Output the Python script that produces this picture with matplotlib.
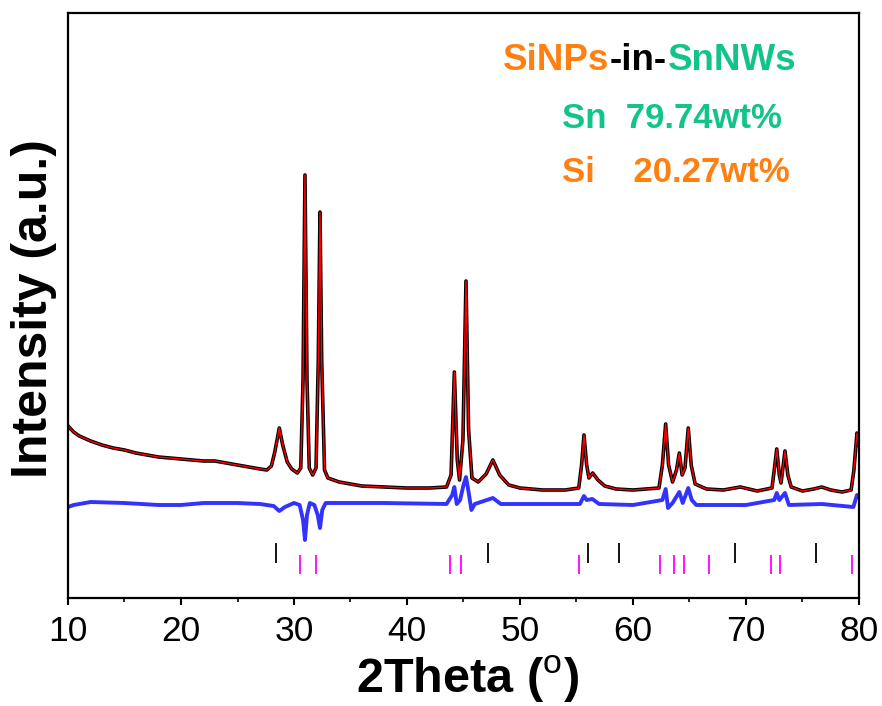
import matplotlib
matplotlib.use("Agg")
import matplotlib.pyplot as plt

plt.rcParams['font.family'] = ['Liberation Sans', 'DejaVu Sans']
plt.rcParams['mathtext.fontset'] = 'custom'
plt.rcParams['mathtext.rm'] = 'Liberation Sans'
plt.rcParams['mathtext.bf'] = 'Liberation Sans:bold'

profile_x = [10.0, 10.5, 11.0, 12.0, 13.0, 14.0, 15.0, 16.0, 17.0, 18.0, 19.0, 20.0,
             21.0, 22.0, 23.0, 24.0, 25.0, 26.0, 27.0, 27.6, 28.0, 28.3, 28.7, 29.0,
             29.4, 29.8, 30.3, 30.6, 30.8, 30.97, 31.15, 31.35, 31.65, 31.95, 32.15,
             32.3, 32.45, 32.7, 33.0, 34.0, 35.0, 36.0, 38.0, 40.0, 42.0, 43.5, 43.9,
             44.19, 44.45, 44.65, 44.95, 45.22, 45.45, 45.75, 46.3, 47.0, 47.6, 48.2,
             49.0, 50.0, 52.0, 54.0, 55.2, 55.45, 55.66, 55.9, 56.1, 56.43, 56.9, 57.5,
             58.5, 60.0, 62.3, 62.6, 62.89, 63.15, 63.5, 63.85, 64.1, 64.35, 64.6,
             64.89, 65.15, 65.5, 66.5, 68.0, 69.5, 71.0, 72.3, 72.5, 72.72, 72.95,
             73.1, 73.45, 73.7, 74.0, 75.0, 76.0, 76.7, 77.5, 78.5, 79.3, 79.55,
             79.82, 80.0]
profile_y = [172, 166, 162, 157, 153, 150, 148, 145, 143, 141, 140, 139,
             138, 137, 137, 135, 133, 131, 129, 128, 132, 146, 170, 153,
             136, 129, 125, 130, 218, 423, 218, 130, 123, 130, 238,
             386, 238, 128, 120, 116, 114, 112, 111, 110, 110, 111, 123,
             226, 138, 118, 158, 317, 168, 120, 116, 124, 138, 123,
             113, 110, 108, 108, 110, 133, 163, 133, 120, 125, 118, 112,
             109, 108, 110, 133, 174, 133, 116, 128, 145, 123, 130,
             170, 133, 114, 109, 108, 111, 107, 110, 128, 149, 123,
             115, 147, 123, 111, 107, 109, 111, 108, 106, 108, 128,
             165, 153]

# difference curve (obs - calc), shifted down
diff_x = [10.0, 10.5, 12.0, 15.0, 18.0, 20.0, 22.0, 25.0, 27.0, 28.2, 28.7, 29.2,
          30.0, 30.5, 30.8, 30.97, 31.15, 31.4, 31.8, 32.1, 32.3, 32.5, 32.8, 34.0,
          38.0, 43.5, 44.0, 44.19, 44.4, 44.7, 45.0, 45.22, 45.45, 45.7, 46.0, 47.6,
          48.3, 50.0, 55.3, 55.66, 55.9, 56.4, 57.0, 60.0, 62.6, 62.89, 63.1, 63.5,
          64.1, 64.4, 64.89, 65.2, 65.6, 70.0, 72.5, 72.72, 72.95, 73.45, 73.8,
          76.7, 79.5, 79.82, 80.0]
diff_y = [91, 93, 96, 95, 93, 93, 95, 95, 94, 92, 87, 91,
          95, 93, 78, 58, 83, 95, 93, 83, 70, 88, 95, 95,
          95, 94, 103, 111, 94, 98, 113, 121, 106, 88, 94, 100,
          94, 94, 94, 102, 98, 99, 94, 93, 98, 109, 90, 95,
          106, 95, 110, 98, 93, 93, 98, 105, 98, 105, 93,
          94, 91, 103, 101]

# reflection positions
si_ticks = [28.4, 47.2, 56.0, 58.8, 69.05, 76.2]
sn_ticks = [30.55, 31.95, 43.8, 44.8, 55.2, 62.4, 63.65, 64.5, 66.75, 72.25, 73.05, 79.35]

orange = '#FF8010'
green = '#12C48A'

fig = plt.figure(figsize=(8.82, 7.06), dpi=100)
ax = fig.add_axes([68 / 882, 1 - 598 / 706, 791 / 882, 585 / 706])

ax.plot(profile_x, profile_y, color='black', lw=2.6)
ax.plot(profile_x, profile_y, color='red', lw=1.0)
ax.plot(diff_x, diff_y, color='blue', lw=2.8, alpha=0.8)
ax.vlines(si_ticks, 35, 55, color='black', lw=1.3)
ax.vlines(sn_ticks, 24, 43, color='magenta', lw=1.3)

ax.set_xlim(10, 80)
ax.set_ylim(0, 585)
ax.set_xticks(range(10, 81, 10))
ax.set_xticks(range(15, 80, 10), minor=True)
ax.set_yticks([])
ax.tick_params(axis='x', which='major', direction='out', length=5, width=1.5,
               labelsize=25.5, pad=7)
ax.tick_params(axis='x', which='minor', direction='out', length=3, width=1.2)
for s in ax.spines.values():
    s.set_linewidth(1.6)

fig.text(468 / 882, 1 - 693 / 706, r'2Theta ($^{\mathrm{o}}$)', fontsize=35,
         fontweight='bold', ha='center', va='baseline')
fig.text(34 / 882, 1 - 309 / 706, 'Intensity (a.u.)', fontsize=36,
         fontweight='bold', rotation=90, ha='center', va='center')

# multi-coloured sample name
fig.canvas.draw()
r = fig.canvas.get_renderer()
x0 = 503
for part, c in [('SiNPs', orange), ('-in-', 'black'), ('SnNWs', green)]:
    t = fig.text(x0 / 882, 1 - 60 / 706, part, fontsize=26.5, fontweight='bold',
                 color=c, ha='left', va='center')
    x0 = t.get_window_extent(r).x1 + 0.5

fig.text(562 / 882, 1 - 118 / 706, 'Sn  79.74wt%', fontsize=25, fontweight='bold',
         color=green, ha='left', va='center')
fig.text(562 / 882, 1 - 172 / 706, 'Si    20.27wt%', fontsize=25, fontweight='bold',
         color=orange, ha='left', va='center')

fig.savefig('out.png', dpi=100)
